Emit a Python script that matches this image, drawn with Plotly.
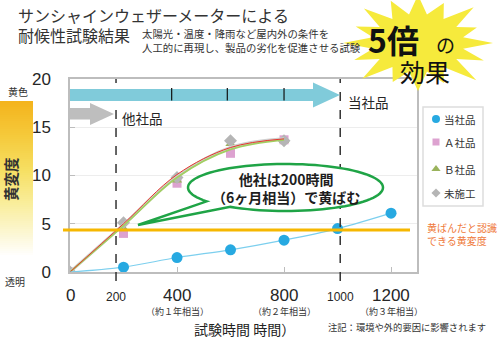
import math
import plotly.graph_objects as go

W, H = 500, 340

# ---------------- data ----------------
hours_ours = [0, 200, 400, 600, 800, 1000, 1200]
ours = [0, 0.5, 1.5, 2.3, 3.3, 4.5, 6.1]
hours_other = [0, 200, 400, 600, 800]
brand_a = [0, 4.0, 9.2, 12.3, 13.7]
brand_b = [0, 4.5, 9.5, 13.3, 13.6]
untreated = [0, 5.1, 9.8, 13.6, 13.6]
trend_a = [0, 5.0, 10.1, 12.9, 13.8]
trend_b = [0, 4.8, 9.8, 12.7, 13.7]
trend_untreated = [0, 4.9, 9.9, 12.9, 13.8]
threshold = 4.35
y_ticks = [0, 5, 10, 15, 20]
x_major = [0, 400, 800, 1200]
x_major_labels = ["0", "400", "800", "1200"]
x_major_sub = ["", "（約１年相当）", "（約２年相当）", "（約３年相当）"]
x_marks = [172, 1010]
x_mark_labels = ["200", "1000"]
band_ticks = [380, 588, 800]
series_names = ["当社品", "Ａ社品", "Ｂ社品", "未施工"]
X_RANGE = [0, 1297]
Y_RANGE = [0, 20]

# ---------------- styles ----------------
C_OURS, C_OURS_LINE = "#27A9E1", "#7CCFEE"
C_A, C_B, C_U = "#DDA2D0", "#9AB35C", "#B5B5B5"
CJK = "Noto Sans CJK JP, sans-serif"
NUM = "Liberation Sans, Arial, sans-serif"
TXT = "#262626"


def px(x):
    return x / W


def py(y):
    return 1 - y / H


def path(points, close=True):
    s = "M " + " L ".join(f"{px(x):.5f},{py(y):.5f}" for x, y in points)
    return s + (" Z" if close else "")


fig = go.Figure()

# other companies: markers
fig.add_trace(go.Scatter(x=hours_other, y=brand_a, mode="markers", name=series_names[1],
                         marker=dict(symbol="square", size=9, color=C_A), showlegend=False))
fig.add_trace(go.Scatter(x=hours_other, y=brand_b, mode="markers", name=series_names[2],
                         marker=dict(symbol="triangle-up", size=9, color=C_B), showlegend=False))
fig.add_trace(go.Scatter(x=hours_other, y=untreated, mode="markers", name=series_names[3],
                         marker=dict(symbol="diamond", size=10, color=C_U), showlegend=False))
# trend lines
fig.add_trace(go.Scatter(x=hours_other, y=trend_untreated, mode="lines", hoverinfo="skip",
                         line=dict(color="#CFCFCF", width=3, shape="spline"), showlegend=False))
fig.add_trace(go.Scatter(x=hours_other, y=trend_b, mode="lines", hoverinfo="skip",
                         line=dict(color="#A2CF62", width=1.8, shape="spline"), showlegend=False))
fig.add_trace(go.Scatter(x=hours_other, y=trend_a, mode="lines", hoverinfo="skip",
                         line=dict(color="#E5372C", width=1, shape="spline"), showlegend=False))
# ours
fig.add_trace(go.Scatter(x=hours_ours, y=ours, mode="lines+markers", name=series_names[0],
                         line=dict(color=C_OURS_LINE, width=1.2, shape="spline"),
                         marker=dict(symbol="circle", size=11, color=C_OURS,
                                     opacity=[0] + [1] * (len(ours) - 1)),
                         showlegend=False))

# legend markers on helper axes
leg_y = [12, 35, 62, 86]
leg_sym = [("circle", 8, C_OURS), ("square", 7, C_A), ("triangle-up", 8, C_B), ("diamond", 7, C_U)]
for name, yy, (sym, sz, col) in zip(series_names, leg_y, leg_sym):
    fig.add_trace(go.Scatter(x=[13], y=[yy], mode="markers", xaxis="x2", yaxis="y2",
                             marker=dict(symbol=sym, size=sz, color=col), name=name,
                             showlegend=False, hoverinfo="skip"))

shapes = []
annotations = []

# gradient bar on left
stops = [(101, (244, 179, 28)), (135, (245, 201, 58)), (170, (246, 223, 98)),
         (205, (249, 238, 158)), (235, (252, 247, 214)), (256, (255, 255, 255))]


def grad(yv):
    for (y0, c0), (y1, c1) in zip(stops[:-1], stops[1:]):
        if y0 <= yv <= y1:
            t = (yv - y0) / (y1 - y0)
            return tuple(round(a + (b - a) * t) for a, b in zip(c0, c1))
    return stops[-1][1]


yv = 101
while yv < 256:
    c = grad(yv + 1)
    shapes.append(dict(type="rect", xref="paper", yref="paper", x0=px(0), x1=px(33),
                       y0=py(yv + 2.4), y1=py(yv), line=dict(width=0),
                       fillcolor=f"rgb({c[0]},{c[1]},{c[2]})", layer="below"))
    yv += 2

# threshold line
shapes.append(dict(type="line", xref="paper", yref="y", x0=px(63), x1=px(410),
                   y0=threshold, y1=threshold, line=dict(color="#F6B700", width=3)))

# dashed marker lines
for xv in x_marks:
    shapes.append(dict(type="line", xref="x", yref="paper", x0=xv, x1=xv,
                       y0=py(281), y1=py(79), line=dict(color="#333333", width=1.5, dash="dash")))

# teal arrow (当社品)
shapes.append(dict(type="path", xref="paper", yref="paper", line=dict(width=0), fillcolor="#80CBDA",
                   path=path([(70, 89), (313, 89), (313, 82.5), (340, 95), (313, 107.5), (313, 101), (70, 101)])))
for xv in band_ticks:
    shapes.append(dict(type="line", xref="x", yref="paper", x0=xv, x1=xv, y0=py(100.5), y1=py(88),
                       line=dict(color="#111111", width=1.2)))
# gray arrow (他社品)
shapes.append(dict(type="path", xref="paper", yref="paper", line=dict(width=0), fillcolor="#BEBEBE",
                   path=path([(70, 108), (90, 108), (90, 103), (114, 114), (90, 125), (90, 119.5), (70, 119.5)])))

# speech bubble
cx, cy, rx, ry = 285.5, 187.5, 97.5, 23.5
pts = []
a0, a1 = 143.9, 484.4
n = 90
for i in range(n + 1):
    a = math.radians(a0 + (a1 - a0) * i / n)
    pts.append((cx + rx * math.cos(a), cy + ry * math.sin(a)))
pts.append((138, 225))
shapes.append(dict(type="path", xref="paper", yref="paper", fillcolor="white",
                   line=dict(color="#1FA446", width=2.5), path=path(pts)))

# starburst
scx, scy = 418, 43
mult = [1.0, 0.9, 1.05, 0.85, 1.0, 0.95, 1.1, 0.9, 1.0, 0.88, 1.05, 0.92, 1.0, 0.9, 1.02, 0.95]
spk = []
ns = len(mult)
for i in range(ns):
    a = math.radians(-90 + 360 * i / ns)
    spk.append((scx + 75 * mult[i] * math.cos(a), scy + 48 * mult[i] * math.sin(a)))
    a2 = math.radians(-90 + 360 * (i + 0.5) / ns)
    spk.append((scx + 46 * math.cos(a2), scy + 29 * math.sin(a2)))
shapes.append(dict(type="path", xref="paper", yref="paper", fillcolor="#F6EA3C",
                   line=dict(width=0), path=path(spk)))

# legend box
shapes.append(dict(type="rect", xref="paper", yref="paper", x0=px(423), x1=px(483),
                   y0=py(206), y1=py(107), fillcolor="white", line=dict(color="#DDDDDD", width=1.5),
                   layer="below"))


def ann(text, x, y, size, color=TXT, xanchor="left", yanchor="middle", family=CJK, **kw):
    annotations.append(dict(text=text, x=px(x), y=py(y), xref="paper", yref="paper",
                            xanchor=xanchor, yanchor=yanchor, showarrow=False, borderpad=0,
                            font=dict(size=size, color=color, family=family), **kw))


# titles
ann("サンシャインウェザーメーターによる", 17, 15.5, 16, color="#333333")
ann("耐候性試験結果", 17, 35.5, 16, color="#333333")
ann("太陽光・温度・降雨など屋内外の条件を", 141, 34, 10.4, color="#333333")
ann("人工的に再現し、製品の劣化を促進させる試験", 141, 47.5, 10.4, color="#333333")

# star text
ann("<b>5倍</b>", 393, 39, 32, color="#111111", xanchor="center")
ann("の", 445, 45, 19, color="#111111", xanchor="center")
ann("効果", 425, 71, 25, color="#111111", xanchor="center")

# arrow labels
ann("他社品", 121, 118, 13.5)
ann("当社品", 347, 102, 13.5)

# bubble text
ann("<b>他社は200時間<br>（6ヶ月相当）で黄ばむ</b>", cx, cy, 14, xanchor="center", color="#1E1E1E")

# left scale labels
ann("黄色", 18, 92, 10, xanchor="center", color="#333333")
ann("透明", 15, 281, 10, xanchor="center", color="#333333")
ann("<b>黄変度</b>", 10, 179, 14.5, xanchor="center", color="#333333", textangle=-90)

# right notes
ann("黄ばんだと認識", 426, 227, 10, color="#EF7A3B")
ann("できる黄変度", 426, 240, 10, color="#EF7A3B")
ann("注記：環境や外的要因に影響されます", 327, 327, 9.3, color="#333333")
ann("試験時間 時間）", 193, 329, 14, color="#222222")

# x tick labels
for xv, lab, sub in zip(x_major, x_major_labels, x_major_sub):
    annotations.append(dict(text=lab, x=xv, y=py(295), xref="x", yref="paper", showarrow=False,
                            xanchor="center", yanchor="middle",
                            font=dict(size=17, color=TXT, family=NUM)))
    if sub:
        annotations.append(dict(text=sub, x=xv, y=py(311), xref="x", yref="paper", showarrow=False,
                                xanchor="center", yanchor="middle",
                                font=dict(size=9, color="#333333", family=CJK)))
for xv, lab in zip(x_marks, x_mark_labels):
    annotations.append(dict(text=lab, x=xv, y=py(297), xref="x", yref="paper", showarrow=False,
                            xanchor="center", yanchor="middle",
                            font=dict(size=12, color=TXT, family=NUM)))

# legend labels
for name, yy in zip(series_names, leg_y):
    annotations.append(dict(text=name, x=19, y=yy, xref="x2", yref="y2", showarrow=False,
                            xanchor="left", yanchor="middle",
                            font=dict(size=10.5, color="#333333", family=CJK)))

fig.update_layout(
    width=W, height=H, template="none",
    margin=dict(l=0, r=0, t=0, b=0),
    paper_bgcolor="white", plot_bgcolor="white",
    font=dict(family=CJK, color=TXT),
    showlegend=False,
    xaxis=dict(domain=[70 / W, 417 / W], range=X_RANGE, automargin=False,
               showline=True, mirror=True, linecolor="#BDBDBD", linewidth=1.5,
               showgrid=False, zeroline=False, tickvals=x_major[1:], ticks="inside",
               ticklen=5, tickcolor="#BDBDBD", showticklabels=False),
    yaxis=dict(domain=[1 - 272 / H, 1 - 79 / H], range=Y_RANGE, automargin=False,
               showline=True, mirror=True, linecolor="#BDBDBD", linewidth=1.5,
               showgrid=True, gridcolor="#EDEDED", gridwidth=1, zeroline=False,
               tickvals=y_ticks, ticks="inside", ticklen=5, tickcolor="#BDBDBD",
               tickfont=dict(size=17, color=TXT, family=NUM), ticklabelstandoff=14),
    xaxis2=dict(domain=[423 / W, 483 / W], range=[0, 60], visible=False, fixedrange=True),
    yaxis2=dict(domain=[1 - 206 / H, 1 - 107 / H], range=[99, 0], visible=False, fixedrange=True),
    shapes=shapes,
    annotations=annotations,
)

fig.write_html("out.html")
